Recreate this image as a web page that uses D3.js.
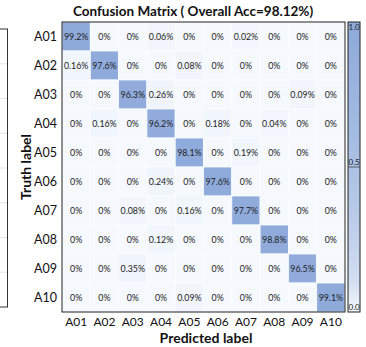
<!DOCTYPE html>
<html>
<head>
<meta charset="utf-8">
<script src="https://cdn.jsdelivr.net/npm/d3@7"></script>
<style>
  body { margin: 0; background: #fff; }
  text { font-family: Lato, "Open Sans", sans-serif; fill: #111; }
</style>
</head>
<body>
<svg id="cm" width="366" height="347"></svg>
<script>
// class labels (truth rows / predicted columns)
const classes = ["A01", "A02", "A03", "A04", "A05", "A06", "A07", "A08", "A09", "A10"]

// row-wise percentages
const rowA01 = [99.2, 0, 0, 0.06, 0, 0, 0.02, 0, 0, 0]
const rowA02 = [0.16, 97.6, 0, 0, 0.08, 0, 0, 0, 0, 0]
const rowA03 = [0, 0, 96.3, 0.26, 0, 0, 0, 0, 0.09, 0]
const rowA04 = [0, 0.16, 0, 96.2, 0, 0.18, 0, 0.04, 0, 0]
const rowA05 = [0, 0, 0, 0, 98.1, 0, 0.19, 0, 0, 0]
const rowA06 = [0, 0, 0, 0.24, 0, 97.6, 0, 0, 0, 0]
const rowA07 = [0, 0, 0.08, 0, 0.16, 0, 97.7, 0, 0, 0]
const rowA08 = [0, 0, 0, 0.12, 0, 0, 0, 98.8, 0, 0]
const rowA09 = [0, 0, 0.35, 0, 0, 0, 0, 0, 96.5, 0]
const rowA10 = [0, 0, 0, 0, 0.09, 0, 0, 0, 0, 99.1]
const rows = [rowA01, rowA02, rowA03, rowA04, rowA05, rowA06, rowA07, rowA08, rowA09, rowA10]

const overallAcc = "98.12%"
const cbarTicks = [0, 0.5, 1]

// neighbouring panel that is cut off at the left edge
const sideGrid = [0, 1, 2, 3, 4, 5, 6, 7, 8]

const margin = {top: 22, left: 62},
    width = 283,
    height = 290

const svg = d3.select("#cm")

const fx = d3.scaleBand().domain(classes).range([margin.left, margin.left + width])
const fy = d3.scaleBand().domain(classes).range([margin.top, margin.top + height])
const color = d3.scaleSqrt()
    .domain([0, 1])
    .range(["#f5f8fd", "#8eaadb"])
    .clamp(true)

// cut-off panel on the left
const sy = d3.scaleLinear().domain([0, 8]).range([29, 307])
svg.append("g")
    .selectAll("line")
    .data(sideGrid.slice(1, -1))
    .join("line")
    .attr("x1", -2).attr("x2", 7)
    .attr("y1", d => sy(d)).attr("y2", d => sy(d))
    .attr("stroke", "#e3e3e3")
svg.append("rect")
    .attr("x", -2).attr("y", sy(0))
    .attr("width", 9.5).attr("height", sy(8) - sy(0))
    .attr("fill", "none")
    .attr("stroke", "#333")

// cells
const cells = []
rows.forEach((r, i) => r.forEach((v, j) => cells.push({t: classes[i], p: classes[j], v: v})))

const cell = svg.append("g")
    .selectAll("g")
    .data(cells)
    .join("g")
cell.append("rect")
    .attr("x", d => fx(d.p))
    .attr("y", d => fy(d.t))
    .attr("width", fx.bandwidth())
    .attr("height", fy.bandwidth())
    .attr("fill", d => color(d.v / 100))
    .attr("stroke", "#fbfcfe")
    .attr("stroke-width", 0.8)
cell.append("text")
    .attr("x", d => fx(d.p) + fx.bandwidth() / 2)
    .attr("y", d => fy(d.t) + fy.bandwidth() / 2)
    .attr("text-anchor", "middle")
    .attr("dominant-baseline", "central")
    .style("font-size", "8.8px")
    .style("fill", "#222")
    .text(d => d.v + "%")

svg.append("rect")
    .attr("x", margin.left).attr("y", margin.top)
    .attr("width", width).attr("height", height)
    .attr("fill", "none")
    .attr("stroke", "#222")

// axes
svg.append("g")
    .attr("transform", "translate(0," + (margin.top + height) + ")")
    .call(d3.axisBottom(fx).tickSize(0).tickPadding(5))
    .call(g => g.select(".domain").remove())
    .selectAll("text")
    .style("font-size", "12px")
    .style("font-family", "Lato, sans-serif")
    .attr("fill", "#111")

svg.append("g")
    .attr("transform", "translate(" + margin.left + ",0)")
    .call(d3.axisLeft(fy).tickSize(0).tickPadding(5))
    .call(g => g.select(".domain").remove())
    .selectAll("text")
    .style("font-size", "12.5px")
    .style("font-family", "Lato, sans-serif")
    .attr("fill", "#111")

// colorbar
const cbX = 348, cbW = 12
const cy = d3.scaleLinear().domain([0, 1]).range([margin.top + height, margin.top])
const grad = svg.append("defs").append("linearGradient")
    .attr("id", "cbar")
    .attr("x1", 0).attr("y1", 1).attr("x2", 0).attr("y2", 0)
grad.selectAll("stop")
    .data(d3.range(0, 1.01, 0.1))
    .join("stop")
    .attr("offset", d => d)
    .attr("stop-color", d => color(d))
svg.append("rect")
    .attr("x", cbX).attr("y", cy(1))
    .attr("width", cbW).attr("height", cy(0) - cy(1))
    .attr("fill", "url(#cbar)")
    .attr("stroke", "#222")
svg.append("g")
    .selectAll("line")
    .data(cbarTicks.filter(d => d > 0 && d < 1))
    .join("line")
    .attr("x1", cbX).attr("x2", cbX + cbW)
    .attr("y1", d => cy(d)).attr("y2", d => cy(d))
    .attr("stroke", "#444")
    .attr("stroke-width", 0.8)
svg.append("g")
    .selectAll("text")
    .data(cbarTicks)
    .join("text")
    .attr("x", cbX + 0.5)
    .attr("y", d => d === 1 ? cy(d) + 8 : cy(d) - 2)
    .style("font-size", "8px")
    .style("fill", "#222")
    .text(d => d.toFixed(1))

// labels
svg.append("text")
    .attr("x", 193)
    .attr("y", 16)
    .attr("text-anchor", "middle")
    .style("font-size", "13.5px")
    .style("font-weight", "bold")
    .text("Confusion Matrix ( Overall Acc=" + overallAcc + ")")

svg.append("text")
    .attr("x", 206)
    .attr("y", 343)
    .attr("text-anchor", "middle")
    .style("font-size", "14px")
    .style("font-weight", "bold")
    .text("Predicted label")

svg.append("text")
    .attr("transform", "translate(31," + (margin.top + height / 2) + ") rotate(-90)")
    .attr("text-anchor", "middle")
    .style("font-size", "14px")
    .style("font-weight", "bold")
    .text("Truth label")
</script>
</body>
</html>
